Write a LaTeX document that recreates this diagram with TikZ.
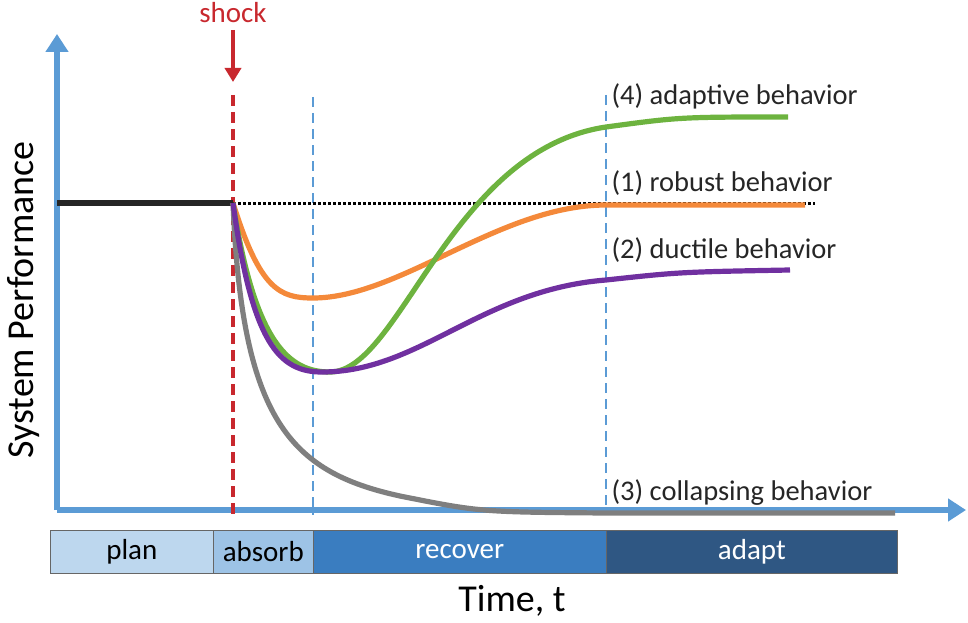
\documentclass[tikz,border=0pt]{standalone}
\usepackage{fontspec}
\setmainfont{Carlito}
\usetikzlibrary{arrows.meta}
\definecolor{axisblue}{HTML}{5B9BD5}
\definecolor{cplan}{HTML}{BDD7EE}
\definecolor{cabsorb}{HTML}{9DC3E6}
\definecolor{crecover}{HTML}{3A7DC0}
\definecolor{cadapt}{HTML}{2F5783}
\definecolor{cred}{HTML}{C8282E}
\definecolor{corange}{HTML}{F4893A}
\definecolor{cpurple}{HTML}{7030A0}
\definecolor{cgreen}{HTML}{6DB33F}
\definecolor{cgray}{HTML}{7F7F7F}
\begin{document}
\begin{tikzpicture}[x=1pt,y=-1pt,
  curve/.style={line width=5.2pt},
  lbl/.style={anchor=west,font=\fontsize{28.5}{30}\selectfont,text=black!85},
  phase/.style={draw=black!60,line width=0.6pt,minimum height=43pt,inner sep=0pt,font=\fontsize{29}{30}\selectfont}]
\useasboundingbox (0,0) rectangle (968,623);
% axes
\coordinate (o) at (57,510);
\coordinate (ytip) at (57,34);
\coordinate (xtip) at (966,510);
\draw[axisblue,line width=6.5pt,-{Triangle[length=18pt,width=22pt]}] (o) -- (ytip);
\draw[axisblue,line width=6.5pt,-{Triangle[length=18pt,width=22pt]}] (o) -- (xtip);
% verticals
\coordinate (r1) at (233,95); \coordinate (r2) at (233,515);
\draw[cred,line width=3.2pt,dash pattern=on 11pt off 6pt] (r1) -- (r2);
\coordinate (b1) at (313,97); \coordinate (b2) at (313,515);
\draw[axisblue,line width=2.8pt,dash pattern=on 10pt off 6pt] (b1) -- (b2);
\coordinate (b3) at (606,95); \coordinate (b4) at (606,515);
\draw[axisblue,line width=2.8pt,dash pattern=on 10pt off 6pt] (b3) -- (b4);
% shock
\node[text=cred,font=\fontsize{29}{30}\selectfont] (shock) at (233,13) {shock};
\coordinate (s1) at (233,30); \coordinate (s2) at (233,82);
\draw[cred,line width=4.2pt,-{Triangle[length=14pt,width=16pt]}] (s1) -- (s2);
% baseline
\coordinate (p0) at (57,203); \coordinate (p1) at (233,203); \coordinate (p2) at (815,203);
\draw[black,dotted,line width=3pt] (p1) -- (p2);
\draw[black!85,line width=5.2pt] (p0) -- (p1);
% curves
\draw[curve,cgray] (p1) .. controls (242,420) and (290,472) .. (400,496) .. controls (480,512) .. (606,513) -- (895,513);
\draw[curve,corange] (p1) .. controls (260,290) and (280,298) .. (313,298) .. controls (400,298) and (500,205) .. (606,205) -- (805,205);
\draw[curve,cgreen] (p1) .. controls (255,345) and (290,372) .. (330,372) .. controls (400,372) and (450,150) .. (606,127) .. controls (680,117) .. (788,117);
\draw[curve,cpurple] (p1) .. controls (252,345) and (280,372) .. (322,372) .. controls (420,372) and (480,290) .. (606,280) .. controls (680,272) .. (790,270);
% labels
\node[lbl] (l4) at (608,96) {(4) adaptive behavior};
\node[lbl] (l1) at (608,183) {(1) robust behavior};
\node[lbl] (l2) at (608,250) {(2) ductile behavior};
\node[lbl] (l3) at (608,493) {(3) collapsing behavior};
% phase bar
\node[phase,fill=cplan,minimum width=163pt,anchor=north west] (plan) at (50,530) {plan};
\node[phase,fill=cabsorb,minimum width=100pt,anchor=north west] (absorb) at (213,530) {absorb};
\node[phase,fill=crecover,text=white,minimum width=293pt,anchor=north west] (recover) at (313,530) {recover};
\node[phase,fill=cadapt,text=white,minimum width=291pt,anchor=north west] (adapt) at (606,530) {adapt};
% axis titles
\node[font=\fontsize{38}{40}\selectfont] (tx) at (512,601) {Time, t};
\node[font=\fontsize{38}{40}\selectfont,rotate=90] (ty) at (24,300) {System Performance};
\end{tikzpicture}
\end{document}
